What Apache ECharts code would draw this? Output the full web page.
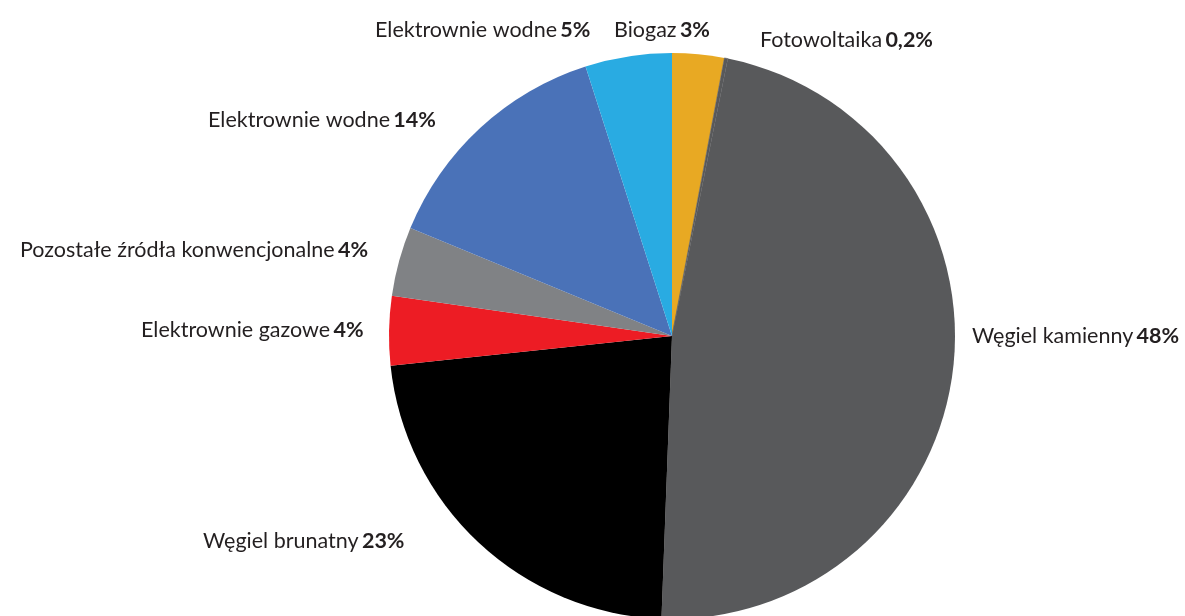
<!DOCTYPE html>
<html>
<head>
<meta charset="utf-8">
<script src="https://cdn.jsdelivr.net/npm/echarts@6/dist/echarts.min.js"></script>
<style>
  html, body { margin: 0; padding: 0; background: #ffffff; }
  #chart { width: 1185px; height: 616px; }
</style>
</head>
<body>
<div id="chart"></div>
<script>
// Struktura produkcji energii elektrycznej wg źródeł (%), zgodnie z ruchem wskazówek zegara od góry
const categories = [
  'Biogaz',
  'Fotowoltaika',
  'Węgiel kamienny',
  'Węgiel brunatny',
  'Elektrownie gazowe',
  'Pozostałe źródła konwencjonalne',
  'Elektrownie wodne',
  'Elektrownie wodne'
];
const shares = [3, 0.2, 48, 23, 4, 4, 14, 5];
const colors = ['#e8a923', '#58595b', '#58595b', '#000000', '#ed1c24', '#808285', '#4a72b8', '#29abe2'];

// Miejsca etykiet (lewy brzeg tekstu, środek wiersza)
const labelAnchors = [
  [614, 30], [760, 40], [972, 336], [203, 541],
  [141, 330], [20, 250], [208, 120], [375, 30]
];

const chart = echarts.init(document.getElementById('chart'), null, { renderer: 'canvas' });

chart.setOption({
  animation: false,
  backgroundColor: '#ffffff',
  series: [{
    type: 'pie',
    center: [672, 336],
    radius: [0, 283],
    startAngle: 90,
    clockwise: true,
    avoidLabelOverlap: false,
    data: categories.map((name, i) => ({
      name: name,
      value: shares[i],
      itemStyle: { color: colors[i], borderColor: colors[i], borderWidth: i === 1 ? 0.5 : 0 }
    })),
    label: {
      show: true,
      position: 'outside',
      formatter: p => '{n|' + p.name + '} {v|' + String(p.value).replace('.', ',') + '%}',
      rich: {
        n: { fontFamily: 'Lato', fontSize: 21.5, color: '#231f20' },
        v: { fontFamily: 'Lato', fontSize: 21.5, fontWeight: 'bold', color: '#231f20' }
      }
    },
    labelLine: { show: false },
    labelLayout: p => ({
      x: labelAnchors[p.dataIndex][0],
      y: labelAnchors[p.dataIndex][1],
      align: 'left',
      verticalAlign: 'middle'
    }),
    emphasis: { disabled: true }
  }]
});
</script>
</body>
</html>
